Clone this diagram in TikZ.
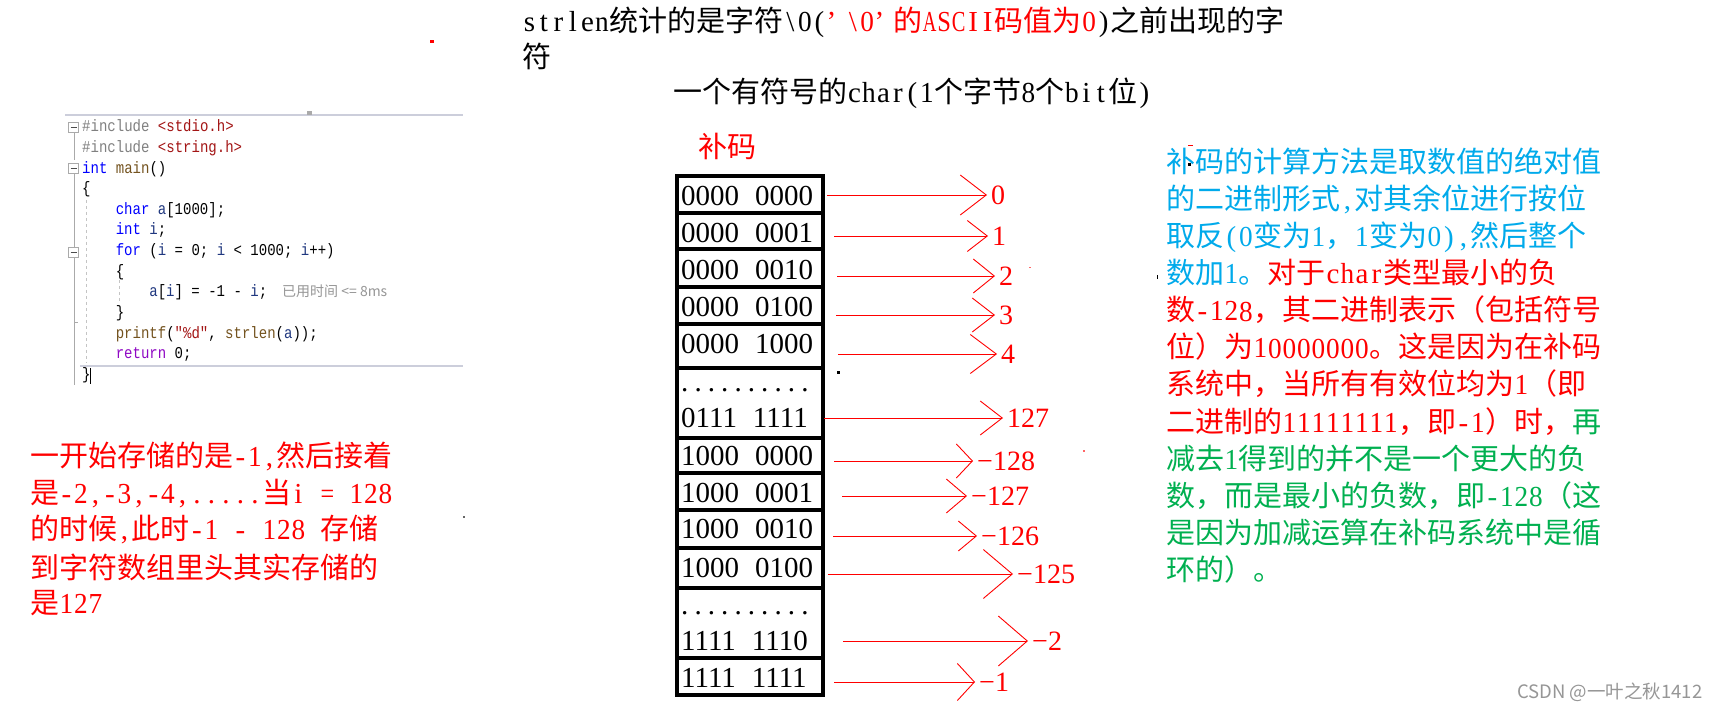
\documentclass[tikz,border=0pt]{standalone}
\usepackage{fontspec}
\usepackage{graphicx}
\usetikzlibrary{arrows.meta}
\setmainfont{Liberation Serif}
\newfontfamily\cjk{Noto Sans CJK SC}
\newfontfamily\codefont[FakeStretch=0.85]{Liberation Mono}
\newfontfamily\wmfont{Noto Sans CJK SC}

% automatic switch to the CJK font for CJK characters
\newcount\cc
\cc=0
\loop \XeTeXcharclass\cc=0 \advance\cc 1 \ifnum\cc<"3000 \repeat
\newXeTeXintercharclass\CJKcls
\cc="3000
\loop \XeTeXcharclass\cc=\CJKcls \advance\cc 1 \ifnum\cc<"3040 \repeat
\cc="4E00
\loop \XeTeXcharclass\cc=\CJKcls \advance\cc 1 \ifnum\cc<"A000 \repeat
\cc="FF00
\loop \XeTeXcharclass\cc=\CJKcls \advance\cc 1 \ifnum\cc<"FFF0 \repeat
\XeTeXinterchartoks 0 \CJKcls = {\begingroup\cjk}
\XeTeXinterchartoks 4095 \CJKcls = {\begingroup\cjk}
\XeTeXinterchartoks \CJKcls 0 = {\endgroup}
\XeTeXinterchartoks \CJKcls 4095 = {\endgroup}
\XeTeXinterchartokenstate=1

% half-width characters (0.5em each)
\newsavebox\hwbox
\newcommand\hwchar[1]{\sbox\hwbox{#1}\ifdim\wd\hwbox>0.49em\relax\makebox[0.5em]{\resizebox{0.47em}{\height}{\usebox\hwbox}}\else\makebox[0.5em]{\usebox\hwbox}\fi}
\def\hw#1{\hwloop#1\relax}
\def\hwloop#1{\ifx#1\relax\else\hwchar{#1}\expandafter\hwloop\fi}
\newcommand\hwsp{\hspace{0.5em}}
\newcommand\fwq{\makebox[0.65em][l]{’}}
\newcommand\dotrow{\makebox[0.46em][l]{.}\makebox[0.46em][l]{.}\makebox[0.46em][l]{.}\makebox[0.46em][l]{.}\makebox[0.46em][l]{.}\makebox[0.46em][l]{.}\makebox[0.46em][l]{.}\makebox[0.46em][l]{.}\makebox[0.46em][l]{.}\makebox[0.46em][l]{.}}

\definecolor{redT}{RGB}{255,0,0}
\definecolor{cyanT}{RGB}{0,170,235}
\definecolor{greenT}{RGB}{0,176,80}
\definecolor{cgray}{RGB}{128,128,128}
\definecolor{cstr}{RGB}{163,21,21}
\definecolor{ckw}{RGB}{0,0,255}
\definecolor{cfn}{RGB}{116,83,31}
\definecolor{cvar}{RGB}{31,55,127}
\definecolor{cret}{RGB}{143,8,196}
\definecolor{guide}{RGB}{170,170,170}
\definecolor{sepline}{RGB}{204,206,219}
\definecolor{wm}{RGB}{150,150,150}

\begin{document}
\begin{tikzpicture}[x=1pt,y=-1pt,
  prose/.style={anchor=base west, inner sep=0pt, font=\fontsize{29}{35}\selectfont},
  code/.style={anchor=base west, inner sep=0pt, font=\codefont\fontsize{16.5}{16.5}\selectfont},
  cell/.style={anchor=base west, inner sep=0pt, font=\fontsize{29}{29}\selectfont},
  lab/.style={anchor=west, inner xsep=4pt, inner ysep=1pt, text=redT, font=\fontsize{28}{28}\selectfont},
  rarr/.style 2 args={draw=redT, line width=0.9pt, -{Straight Barb[length=#1pt,width=#2pt]}},
  tbl/.style={line width=3.5pt, draw=black},
  fold/.style={draw=guide, line width=0.8pt},
  ]
\fill[white] (0,0) rectangle (1730,711);
\useasboundingbox (0,0) rectangle (1730,711);

% ---------- code editor snippet ----------
\draw[sepline, line width=2.5pt] (65,115) -- (463,115);
\fill[guide] (307,111) rectangle (312,115);
\draw[sepline, line width=2pt] (80,366) -- (463,366);
% fold markers and guides
\draw[fold] (74,132) -- (74,160);
\draw[fold] (74,173) -- (74,385);
\draw[fold] (74,322) -- (78,322);
\draw[guide!70, dashed, line width=0.7pt] (86,200) -- (86,363);
\draw[guide!70, dashed, line width=0.7pt] (119,280) -- (119,303);
\foreach \yy in {127,168,252} {
  \filldraw[draw=guide, fill=white, line width=0.8pt] (68.5,\yy-5) rectangle (78.5,\yy+5);
  \draw[black!70, line width=0.8pt] (70.5,\yy) -- (76.5,\yy);
}
\node[code] (c1) at (82,132) {{\color{cgray}\#include} {\color{cstr}<stdio.h>}};
\node[code] (c2) at (82,152.6) {{\color{cgray}\#include} {\color{cstr}<string.h>}};
\node[code] (c3) at (82,173.2) {{\color{ckw}int} {\color{cfn}main}()};
\node[code] (c4) at (82,193.8) {\{};
\node[code] (c5) at (115.6,214.4) {{\color{ckw}char} {\color{cvar}a}[1000];};
\node[code] (c6) at (115.6,235) {{\color{ckw}int} {\color{cvar}i};};
\node[code] (c7) at (115.6,255.6) {{\color{ckw}for} ({\color{cvar}i} = 0; {\color{cvar}i} < 1000; {\color{cvar}i}++)};
\node[code] (c8) at (115.6,276.2) {\{};
\node[code] (c9) at (149.2,296.8) {{\color{cvar}a}[{\color{cvar}i}] = -1 - {\color{cvar}i};};
\node[anchor=base west, inner sep=0pt, text=wm, font=\cjk\fontsize{14}{14}\selectfont] (c9t) at (282,296.8) {已用时间 <= 8ms};
\node[code] (c10) at (115.6,317.4) {\}};
\node[code] (c11) at (115.6,338) {{\color{cfn}printf}({\color{cstr}"\%d"}, {\color{cfn}strlen}({\color{cvar}a}));};
\node[code] (c12) at (115.6,358.6) {{\color{cret}return} 0;};
\node[code] (c13) at (82,379.2) {\}};
\draw[black, line width=1.3pt] (90.5,368) -- (90.5,384);

% ---------- top text ----------
\node[prose] (t1) at (522,32) {\hw{strlen}统计的是字符\hw{\textbackslash0(}\textcolor{redT}{\fwq\hw{\textbackslash0}\fwq 的\hw{ASCII}码值为\hw{0}}\hw{)}之前出现的字};
\node[prose] (t2) at (522,68) {符};
\node[prose] (t3) at (673,103) {一个有符号的\hw{char(1}个字节\hw{8}个\hw{bit}位\hw{)}};
\node[prose, text=redT] (t4) at (698,158) {补码};

% ---------- table ----------
\draw[tbl] (677,176) rectangle (823,695);
\foreach \yy in {213,249,287,324,368,438,473,510,548,588,658}
  \draw[tbl] (677,\yy) -- (823,\yy);
\node[cell] (b1) at (681,206) {0000\hspace{0.55em}0000};
\node[cell] (b2) at (681,243) {0000\hspace{0.55em}0001};
\node[cell] (b3) at (681,280) {0000\hspace{0.55em}0010};
\node[cell] (b4) at (681,317) {0000\hspace{0.55em}0100};
\node[cell] (b5) at (681,353) {0000\hspace{0.55em}1000};
\node[cell] (d1) at (681,391) {\dotrow};
\node[cell] (b6) at (681,427) {0111\hspace{0.55em}1111};
\node[cell] (b7) at (681,465) {1000\hspace{0.55em}0000};
\node[cell] (b8) at (681,502) {1000\hspace{0.55em}0001};
\node[cell] (b9) at (681,538) {1000\hspace{0.55em}0010};
\node[cell] (b10) at (681,577) {1000\hspace{0.55em}0100};
\node[cell] (d2) at (681,614) {\dotrow};
\node[cell] (b11) at (681,650) {1111\hspace{0.55em}1110};
\node[cell] (b12) at (681,687) {1111\hspace{0.55em}1111};

% ---------- arrows and values ----------
\foreach \i/\sx/\yy/\tx/\len/\wid/\lab in {
  1/827/195/987/26/40/0,
  2/834/236/988/20/31/1,
  3/837/276/995/21/34/2,
  4/836/315/995/22/34/3,
  5/838/354/997/26/39/4,
  6/824/418/1003/22/34/127,
  7/834/461/973/16/34/−128,
  8/842/496/967/20/34/−127,
  9/833/536/977/18/30/−126,
  10/828/574/1013/29/49/−125,
  11/843/641/1028/29/50/−2,
  12/834/682/975/17/37/−1} {
  \coordinate (s\i) at (\sx,\yy);
  \node[lab] (l\i) at (\tx,\yy) {\lab};
  \draw[rarr={\len}{\wid}] (s\i) -- (l\i.west);
}

% ---------- right explanation ----------
\node[prose, text=cyanT] (r1) at (1166,173) {补码的计算方法是取数值的绝对值};
\node[prose, text=cyanT] (r2) at (1166,210) {的二进制形式\hw{,}对其余位进行按位};
\node[prose, text=cyanT] (r3) at (1166,247) {取反\hw{(0}变为\hw{1}，\hw{1}变为\hw{0),}然后整个};
\node[prose] (r4) at (1166,284) {\textcolor{cyanT}{数加\hw{1}。}\textcolor{redT}{对于\hw{char}类型最小的负}};
\node[prose, text=redT] (r5) at (1166,321) {数\hw{-128}，其二进制表示（包括符号};
\node[prose, text=redT] (r6) at (1166,358) {位）为\hw{10000000}。这是因为在补码};
\node[prose, text=redT] (r7) at (1166,395) {系统中，当所有有效位均为\hw{1}（即};
\node[prose] (r8) at (1166,432) {\textcolor{redT}{二进制的\hw{11111111}，即\hw{-1}）时，}\textcolor{greenT}{再}};
\node[prose, text=greenT] (r9) at (1166,469) {减去\hw{1}得到的并不是一个更大的负};
\node[prose, text=greenT] (r10) at (1166,506) {数，而是最小的负数，即\hw{-128}（这};
\node[prose, text=greenT] (r11) at (1166,543) {是因为加减运算在补码系统中是循};
\node[prose, text=greenT] (r12) at (1166,580) {环的）。};

% ---------- left explanation ----------
\node[prose, text=redT] (p1) at (30,466) {一开始存储的是\hw{-1,}然后接着};
\node[prose, text=redT] (p2) at (30,503) {是\hw{-2,-3,-4,.....}当\hw{i}\hwsp\hw{=}\hwsp\hw{128}};
\node[prose, text=redT] (p3) at (30,539) {的时候\hw{,}此时\hw{-1}\hwsp\hw{-}\hwsp\hw{128}\hwsp 存储};
\node[prose, text=redT] (p4) at (30,578) {到字符数组里头其实存储的};
\node[prose, text=redT] (p5) at (30,613) {是\hw{127}};

% ---------- watermark ----------
\node[anchor=west, inner sep=0pt, text=wm, font=\wmfont\fontsize{18.5}{18.5}\selectfont] (wm) at (1517,692) {CSDN @一叶之秋1412};

% ---------- stray marks ----------
\fill[redT] (430,40) rectangle (434,43);
\fill[redT] (1188,145) rectangle (1193,146.5);
\fill[black] (1188,163) rectangle (1191,166);
\fill[black] (1156.5,275) rectangle (1157.8,279);
\fill[black] (837,371) rectangle (840,374);
\fill[redT!60] (1029,267) rectangle (1030.5,268.5);
\fill[redT!60] (1083,450) rectangle (1084.5,451.5);
\fill[black!60] (463,516) rectangle (464.5,517.5);
\end{tikzpicture}
\end{document}
